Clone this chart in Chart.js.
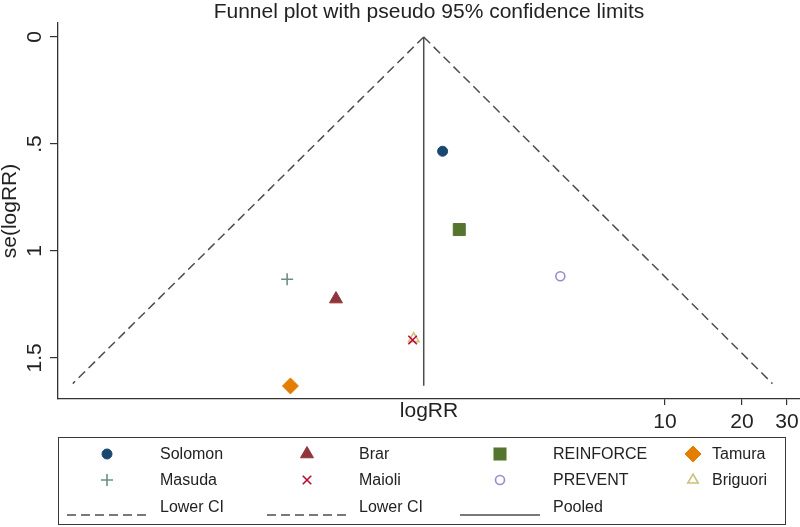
<!DOCTYPE html>
<html>
<head>
<meta charset="utf-8">
<script src="https://cdn.jsdelivr.net/npm/chart.js@4.4.1/dist/chart.umd.min.js"></script>
<style>
  html, body { margin: 0; padding: 0; background: #fff; }
  #wrap { position: relative; width: 800px; height: 527px; font-family: 'Liberation Sans', Arial, sans-serif; color: #222; }
  #funnel { position: absolute; left: 0; top: 0; }
  #legend { position: absolute; left: 58px; top: 437px; width: 728px; height: 88px; border: 1.5px solid #3a3a3a; box-sizing: border-box; }
  .key { position: absolute; display: block; }
  .lbl { position: absolute; font-size: 16px; line-height: 20px; white-space: nowrap; }
</style>
</head>
<body>
<div id="wrap">
  <canvas id="funnel" width="800" height="527"></canvas>
  <div id="legend"></div>
</div>
<script>
// studies, in legend order
const studies = ['Solomon', 'Brar', 'REINFORCE', 'Tamura', 'Masuda', 'Maioli', 'PREVENT', 'Briguori'];
const logRR = [0.30, -0.66, 0.45, -1.07, -1.10, 0.03, 1.36, 0.04];
const seLogRR = [0.534, 1.225, 0.900, 1.631, 1.132, 1.416, 1.118, 1.410];

// pooled line and pseudo 95% limits (end points)
const pooledX = [0.13, 0.13];
const pooledSe = [0, 1.63];
const lowerCIx = [0.13, -3.03];
const upperCIx = [0.13, 3.27];
const ciSe = [0, 1.62];

// axis ticks
const xTickRR = [10, 20, 30];
const yTicks = [0, 0.5, 1, 1.5];
const yTickLabels = ['0', '.5', '1', '1.5'];

const ink = '#222';
const axisCol = '#333';
const ciCol = '#4d4d4d';

const markers = {
    Solomon:   { style: 'circle',   color: '#1a476f', fill: true,  r: 5 },
    Brar:      { style: 'triangle', color: '#90353b', fill: true,  r: 7.5 },
    REINFORCE: { style: 'rect',     color: '#55752f', fill: true,  r: 8.5 },
    Tamura:    { style: 'rectRot',  color: '#e37e00', fill: true,  r: 8 },
    Masuda:    { style: 'cross',    color: '#6e8e84', fill: false, r: 6 },
    Maioli:    { style: 'crossRot', color: '#c10534', fill: false, r: 6 },
    PREVENT:   { style: 'circle',   color: '#938dd2', fill: false, r: 4.5 },
    Briguori:  { style: 'triangle', color: '#cac27e', fill: false, r: 6 }
};

Chart.defaults.font.family = "'Liberation Sans', Arial, sans-serif";

const pointSets = studies.map((name, i) => {
    const m = markers[name];
    return {
        label: name,
        data: [{ x: logRR[i], y: seLogRR[i] }],
        pointStyle: m.style,
        pointRadius: m.r,
        pointBackgroundColor: m.fill ? m.color : 'rgba(0,0,0,0)',
        pointBorderColor: m.color,
        pointBorderWidth: m.fill ? 1 : 1.6,
        showLine: false,
        clip: false
    };
});

const lineSet = (label, xs, ys, dash) => ({
    label: label,
    data: xs.map((x, i) => ({ x: x, y: ys[i] })),
    showLine: true,
    pointRadius: 0,
    borderColor: ciCol,
    borderWidth: 1.5,
    borderDash: dash,
    clip: false
});

const axisFont = { size: 21 };

new Chart(document.getElementById('funnel'), {
    type: 'scatter',
    data: {
        datasets: [
            ...pointSets,
            lineSet('Lower CI', lowerCIx, ciSe, [9, 5]),
            lineSet('Lower CI', upperCIx, ciSe, [9, 5]),
            lineSet('Pooled', pooledX, pooledSe, [])
        ]
    },
    options: {
        responsive: false,
        animation: false,
        layout: { autoPadding: false, padding: { left: 0, right: 0, top: 0, bottom: 88 } },
        plugins: {
            legend: { display: false },
            tooltip: { enabled: false },
            title: {
                display: true,
                text: 'Funnel plot with pseudo 95% confidence limits',
                fullSize: false,
                color: ink,
                font: { size: 21, weight: 'normal', lineHeight: 1 },
                padding: { top: 2, bottom: 0 }
            }
        },
        scales: {
            x: {
                type: 'linear',
                min: -3.163,
                max: 3.518,
                afterBuildTicks: s => { s.ticks = xTickRR.map(v => ({ value: Math.log(v) })); },
                afterFit: s => { s.height = 40; s.paddingLeft = 0; s.paddingRight = 0; },
                ticks: {
                    callback: (v, i) => String(xTickRR[i]),
                    color: ink, font: axisFont, padding: 5,
                    maxRotation: 0, autoSkip: false
                },
                grid: { display: true, drawOnChartArea: false, drawTicks: true, tickLength: 6, color: axisCol, lineWidth: 1.2 },
                border: { display: true, color: axisCol, width: 1.3 },
                title: { display: true, text: 'logRR', color: ink, font: axisFont, padding: { top: 0, bottom: 15 } }
            },
            y: {
                type: 'linear',
                reverse: true,
                min: -0.0654,
                max: 1.692,
                afterBuildTicks: s => { s.ticks = yTicks.map(v => ({ value: v })); },
                afterFit: s => { s.width = 58; s.paddingTop = 0; s.paddingBottom = 0; },
                ticks: {
                    callback: (v, i) => yTickLabels[i],
                    minRotation: 90, maxRotation: 90, crossAlign: 'center',
                    padding: 0, color: ink, font: axisFont, autoSkip: false
                },
                grid: { display: true, drawOnChartArea: false, drawTicks: true, tickLength: 8, color: axisCol, lineWidth: 1.2 },
                border: { display: true, color: axisCol, width: 1.3 },
                title: { display: true, text: 'se(logRR)', color: ink, font: { size: 21, lineHeight: 1 }, padding: 0 }
            }
        }
    }
});

// legend below the plot, 4 columns x 3 rows like the Stata one
const legendCols = [107, 307, 500, 693];
const legendText = [160, 359, 553, 712];
const legendRows = [454, 480, 507];
const wrap = document.getElementById('wrap');

function markerSvg(m) {
    const c = 12, r = m.r;
    const fill = m.fill ? m.color : 'none';
    const sw = m.fill ? 1 : 1.6;
    let shape = '';
    if (m.style === 'circle') {
        shape = `<circle cx="${c}" cy="${c}" r="${r}" fill="${fill}" stroke="${m.color}" stroke-width="${sw}"/>`;
    } else if (m.style === 'triangle') {
        const pts = [[c, c - r], [c + 0.866 * r, c + 0.5 * r], [c - 0.866 * r, c + 0.5 * r]];
        shape = `<polygon points="${pts.map(p => p.join(',')).join(' ')}" fill="${fill}" stroke="${m.color}" stroke-width="${sw}"/>`;
    } else if (m.style === 'rect') {
        const h = 0.7071 * r;
        shape = `<rect x="${c - h}" y="${c - h}" width="${2 * h}" height="${2 * h}" fill="${fill}" stroke="${m.color}" stroke-width="${sw}"/>`;
    } else if (m.style === 'rectRot') {
        const pts = [[c, c - r], [c + r, c], [c, c + r], [c - r, c]];
        shape = `<polygon points="${pts.map(p => p.join(',')).join(' ')}" fill="${fill}" stroke="${m.color}" stroke-width="${sw}"/>`;
    } else if (m.style === 'cross') {
        shape = `<path d="M${c - r} ${c}H${c + r}M${c} ${c - r}V${c + r}" stroke="${m.color}" stroke-width="${sw}"/>`;
    } else if (m.style === 'crossRot') {
        const h = 0.7071 * r;
        shape = `<path d="M${c - h} ${c - h}L${c + h} ${c + h}M${c - h} ${c + h}L${c + h} ${c - h}" stroke="${m.color}" stroke-width="${sw}"/>`;
    }
    return `<svg width="24" height="24" viewBox="0 0 24 24">${shape}</svg>`;
}

function addLabel(text, col, row) {
    const el = document.createElement('span');
    el.className = 'lbl';
    el.textContent = text;
    el.style.left = legendText[col] + 'px';
    el.style.top = (legendRows[row] - 10) + 'px';
    wrap.appendChild(el);
}

studies.forEach((name, i) => {
    const col = i % 4, row = Math.floor(i / 4);
    const key = document.createElement('div');
    key.className = 'key';
    key.innerHTML = markerSvg(markers[name]);
    key.style.left = (legendCols[col] - 12) + 'px';
    key.style.top = (legendRows[row] - 12) + 'px';
    wrap.appendChild(key);
    addLabel(name, col, row);
});

[['Lower CI', '9 5'], ['Lower CI', '9 5'], ['Pooled', '']].forEach((entry, col) => {
    const key = document.createElement('div');
    key.className = 'key';
    key.innerHTML = `<svg width="80" height="6" viewBox="0 0 80 6"><line x1="0" y1="3" x2="80" y2="3" stroke="${ciCol}" stroke-width="1.3" ${entry[1] ? `stroke-dasharray="${entry[1]}"` : ''}/></svg>`;
    key.style.left = (legendCols[col] - 40) + 'px';
    key.style.top = (legendRows[2] - 3) + 'px';
    wrap.appendChild(key);
    addLabel(entry[0], col, 2);
});
</script>
</body>
</html>
